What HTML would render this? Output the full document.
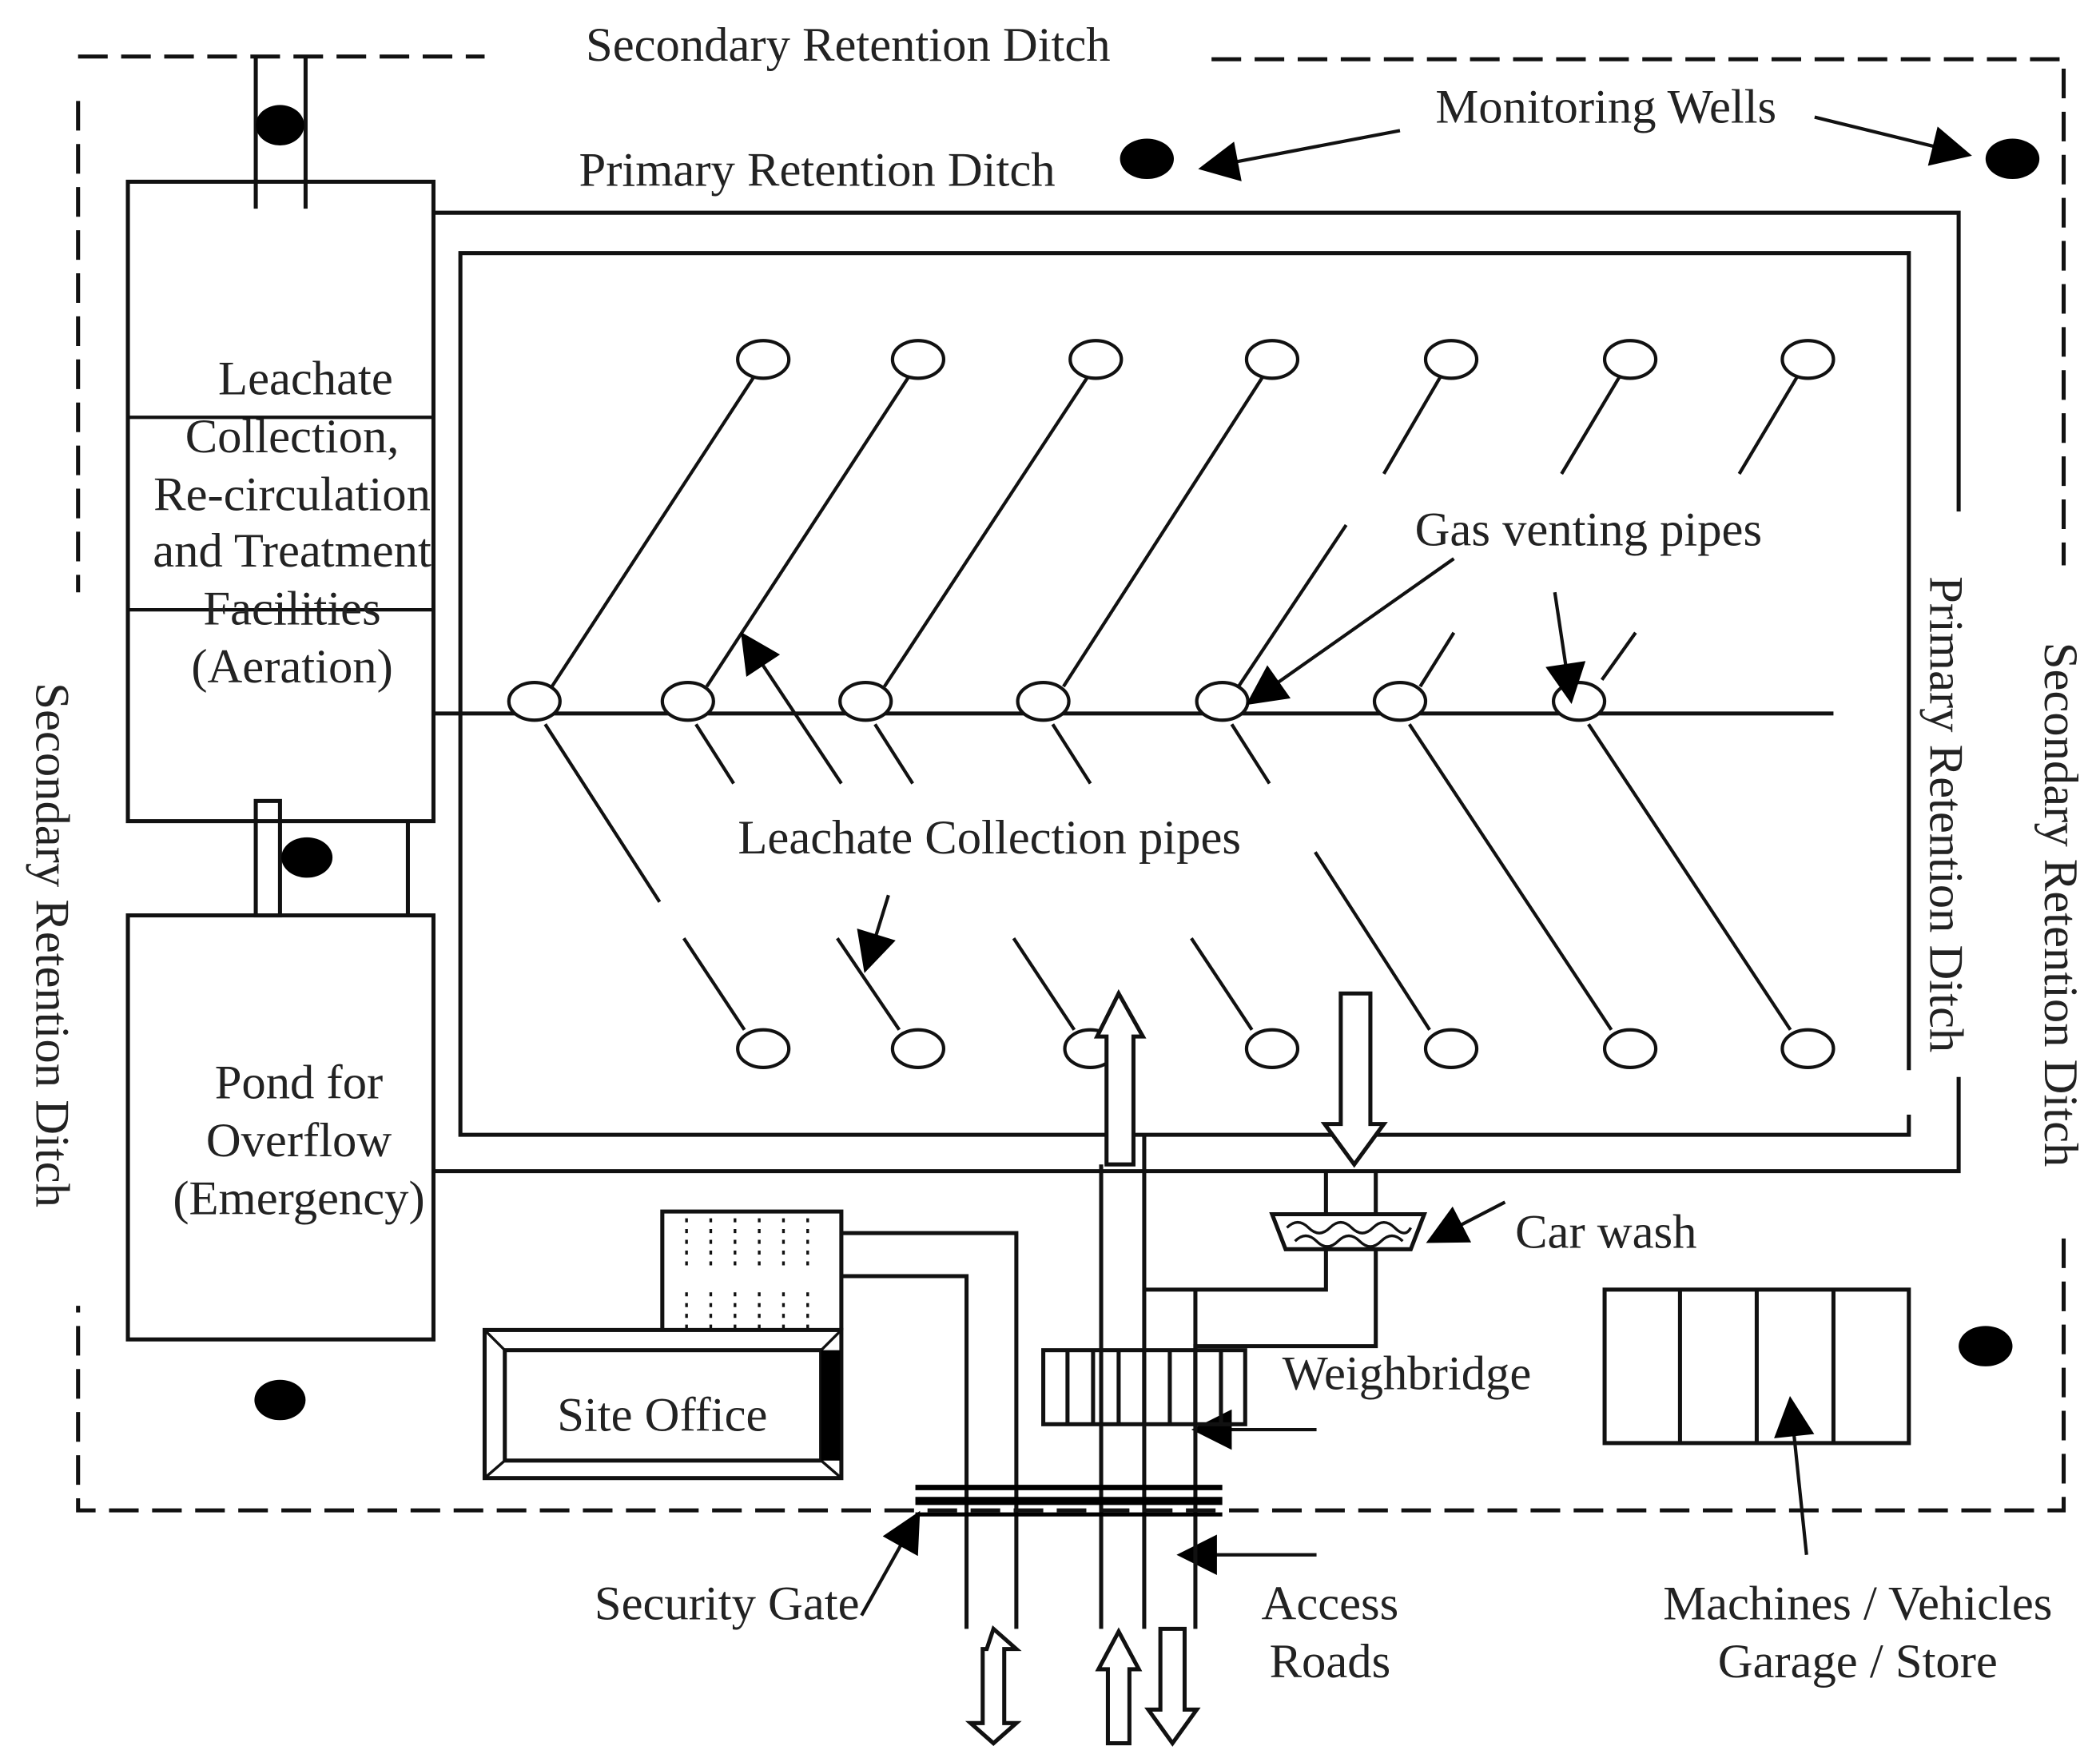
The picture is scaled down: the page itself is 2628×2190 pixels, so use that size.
<!DOCTYPE html>
<html><head><meta charset="utf-8"><style>
html,body{margin:0;padding:0;background:#fff}
svg{display:block}
text{font-family:"Liberation Serif",serif;fill:#222}
</style></head><body>
<svg width="2628" height="2190" viewBox="0 0 1560 1300" xmlns="http://www.w3.org/2000/svg">
<defs>
<marker id="ab" viewBox="0 0 10 10" refX="9" refY="5" markerWidth="34" markerHeight="30" markerUnits="userSpaceOnUse" orient="auto">
<path d="M0,0 L10,5 L0,10 z" fill="#000"/></marker>
</defs>
<g fill="none" stroke="#111" stroke-width="3">
<g stroke-dasharray="22,10" stroke-width="3">
<path d="M58,42 H360"/>
<path d="M900,44 H1533 V420"/>
<path d="M1533,920 V1122 H58 V970"/>
<path d="M58,75 V440"/>
</g>
<path d="M190,42 V155 M227,42 V155"/>
<rect x="95" y="135" width="227" height="475"/>
<path d="M95,310 H322 M95,453 H322" stroke-width="2.5"/>
<rect x="190" y="595" width="18" height="85"/>
<path d="M303,610 V680"/>
<rect x="95" y="680" width="227" height="315"/>
<path d="M322,158 H1455 V380 M1455,800 V870 H322"/>
<path d="M1418,795 V188 H342 V843 H1418 V828"/>
<path d="M322,530 H1362"/>
</g>
<g fill="#000">
<ellipse cx="208" cy="93" rx="18" ry="15"/>
<ellipse cx="228" cy="637" rx="19" ry="15"/>
<ellipse cx="208" cy="1040" rx="19" ry="15"/>
<ellipse cx="852" cy="118" rx="20" ry="15"/>
<ellipse cx="1495" cy="118" rx="20" ry="15"/>
<ellipse cx="1475" cy="1000" rx="20" ry="15"/>
</g>
<g stroke="#111" stroke-width="2.5" fill="none">
<path d="M410,510 L560,280 M525,510 L675,280 M657,510 L808,280 M790,510 L938,280"/>
<path d="M1070,280 L1028,352 M1000,390 L920,510 M1203,280 L1160,352 M1055,510 L1080,470 M1335,280 L1292,352 M1190,505 L1215,470"/>
<path d="M405,538 L490,670 M508,697 L553,765 M517,538 L545,582 M622,697 L668,765 M650,538 L678,582 M753,697 L798,765 M782,538 L810,582 M885,697 L930,765 M915,538 L943,582 M977,633 L1062,765 M1047,538 L1197,765 M1180,538 L1330,765"/>
</g>
<g fill="#fff" stroke="#111" stroke-width="2.5">
<ellipse cx="567" cy="267" rx="19" ry="14"/><ellipse cx="682" cy="267" rx="19" ry="14"/><ellipse cx="814" cy="267" rx="19" ry="14"/><ellipse cx="945" cy="267" rx="19" ry="14"/><ellipse cx="1078" cy="267" rx="19" ry="14"/><ellipse cx="1211" cy="267" rx="19" ry="14"/><ellipse cx="1343" cy="267" rx="19" ry="14"/>
<ellipse cx="397" cy="521" rx="19" ry="14"/><ellipse cx="511" cy="521" rx="19" ry="14"/><ellipse cx="643" cy="521" rx="19" ry="14"/><ellipse cx="775" cy="521" rx="19" ry="14"/><ellipse cx="908" cy="521" rx="19" ry="14"/><ellipse cx="1040" cy="521" rx="19" ry="14"/><ellipse cx="1173" cy="521" rx="19" ry="14"/>
<ellipse cx="567" cy="779" rx="19" ry="14"/><ellipse cx="682" cy="779" rx="19" ry="14"/><ellipse cx="810" cy="779" rx="19" ry="14"/><ellipse cx="945" cy="779" rx="19" ry="14"/><ellipse cx="1078" cy="779" rx="19" ry="14"/><ellipse cx="1211" cy="779" rx="19" ry="14"/><ellipse cx="1343" cy="779" rx="19" ry="14"/>
</g>
<g stroke="#111" stroke-width="2.5" fill="none" marker-end="url(#ab)">
<path d="M1040,97 L893,125"/>
<path d="M1348,87 L1462,115"/>
<path d="M1080,415 L928,522"/>
<path d="M1155,440 L1167,520"/>
<path d="M625,582 L552,472"/>
<path d="M660,665 L643,720"/>
<path d="M1118,893 L1062,922"/>
<path d="M978,1062 L888,1062"/>
<path d="M978,1155 L877,1155"/>
<path d="M640,1200 L682,1125"/>
<path d="M1342,1155 L1330,1040"/>
</g>
<g stroke="#111" stroke-width="3" fill="none">
<path d="M818,865 V1210 M850,843 V1210 M888,958 V1210"/>
<path d="M625,916 H755 V1210 M625,948 H718 V1210"/>
<path d="M850,958 H985 V870 M1022,928 V1000 H888 V1060"/>
<path d="M1022,870 V902"/>
</g>
<g fill="#fff" stroke="#111" stroke-width="3">
<path d="M822,865 V770 H815 L831,738 L849,770 H842 V865 Z"/>
<path d="M996,738 H1018 V835 H1028 L1006,865 L984,835 H996 Z"/>
<path d="M733,1225 L738,1210 L755,1225 H746 V1280 H755 L738,1295 L721,1280 H730 V1225 Z"/>
<path d="M823,1295 V1240 H816 L831,1212 L846,1240 H839 V1295 Z"/>
<path d="M862,1210 H880 V1270 H889 L871,1295 L853,1270 H862 Z"/>
</g>
<g stroke="#111" stroke-width="3" fill="#fff">
<path d="M945,902 H1058 L1048,928 H955 Z"/>
<path d="M956,912 q8,-8 16,0 t16,0 t16,0 t16,0 t16,0 t12,0 M962,922 q8,-8 16,0 t16,0 t16,0 t16,0 t16,0" fill="none" stroke-width="2"/>
</g>
<g stroke="#111" stroke-width="3" fill="none">
<rect x="775" y="1003" width="150" height="55"/>
<path d="M793,1003 V1058 M812,1003 V1058 M831,1003 V1058 M850,1003 V1058 M869,1003 V1058 M888,1003 V1058 M907,1003 V1058"/>
</g>
<g stroke="#000" fill="none">
<path d="M680,1105 H908" stroke-width="4"/>
<path d="M680,1115 H908" stroke-width="6"/>
<path d="M680,1125 H908" stroke-width="3"/>
</g>
<g stroke="#111" fill="none">
<path d="M492,988 V900 H625 V988" stroke-width="3"/>
<g stroke-dasharray="3,5" stroke-width="2"><path d="M510,905 V940 M528,905 V940 M546,905 V940 M564,905 V940 M582,905 V940 M600,905 V940 M510,960 V988 M528,960 V988 M546,960 V988 M564,960 V988 M582,960 V988 M600,960 V988"/></g>
</g>
<g stroke="#111" stroke-width="3" fill="#fff">
<rect x="360" y="988" width="265" height="110"/>
<rect x="375" y="1003" width="235" height="82"/>
<path d="M360,988 L375,1003 M625,988 L610,1003 M360,1098 L375,1085 M625,1098 L610,1085" fill="none" stroke-width="2"/>
<rect x="610" y="1003" width="14" height="82" fill="#000" stroke="none"/>
</g>
<g stroke="#111" stroke-width="3" fill="none">
<rect x="1192" y="958" width="226" height="114"/>
<path d="M1248,958 V1072 M1305,958 V1072 M1362,958 V1072"/>
</g>
<g font-size="36">
<text x="630" y="45" text-anchor="middle">Secondary Retention Ditch</text>
<text x="607" y="138" text-anchor="middle">Primary Retention Ditch</text>
<text x="1193" y="91" text-anchor="middle">Monitoring Wells</text>
<text x="227" y="293" text-anchor="middle">Leachate</text>
<text x="217" y="336" text-anchor="middle">Collection,</text>
<text x="217" y="379" text-anchor="middle">Re-circulation</text>
<text x="217" y="421" text-anchor="middle">and Treatment</text>
<text x="217" y="464" text-anchor="middle">Facilities</text>
<text x="217" y="507" text-anchor="middle">(Aeration)</text>
<text x="222" y="816" text-anchor="middle">Pond for</text>
<text x="222" y="859" text-anchor="middle">Overflow</text>
<text x="222" y="902" text-anchor="middle">(Emergency)</text>
<text x="1180" y="405" text-anchor="middle">Gas venting pipes</text>
<text x="735" y="634" text-anchor="middle">Leachate Collection pipes</text>
<text x="1193" y="927" text-anchor="middle">Car wash</text>
<text x="1045" y="1032" text-anchor="middle">Weighbridge</text>
<text x="492" y="1063" text-anchor="middle">Site Office</text>
<text x="540" y="1203" text-anchor="middle">Security Gate</text>
<text x="988" y="1203" text-anchor="middle">Access</text>
<text x="988" y="1246" text-anchor="middle">Roads</text>
<text x="1380" y="1203" text-anchor="middle">Machines / Vehicles</text>
<text x="1380" y="1246" text-anchor="middle">Garage / Store</text>
<text transform="translate(27,702) rotate(90)" text-anchor="middle">Secondary Retention Ditch</text>
<text transform="translate(1434,605) rotate(90)" text-anchor="middle">Primary Retention Ditch</text>
<text transform="translate(1519,672) rotate(90)" text-anchor="middle">Secondary Retention Ditch</text>
</g>
</svg>
</body></html>
